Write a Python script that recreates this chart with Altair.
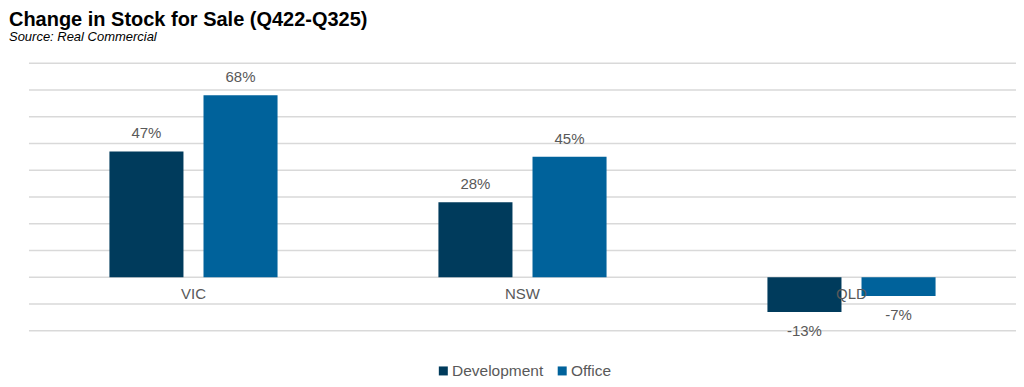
import altair as alt
import pandas as pd

categories = ["VIC", "NSW", "QLD"]
series = ["Development", "Office"]
development = [47, 28, -13]
office = [68, 45, -7]
colors = ["#003B5C", "#00629B"]
grid_values = [-20, -10, 0, 10, 20, 30, 40, 50, 60, 70, 80]

rows = []
for c, d, o in zip(categories, development, office):
    rows.append({"Region": c, "Series": "Development", "Value": d})
    rows.append({"Region": c, "Series": "Office", "Value": o})
df = pd.DataFrame(rows)
df["Label"] = df["Value"].map(lambda v: f"{v}%")
cat_df = pd.DataFrame({"Region": categories})
grid_df = pd.DataFrame({"Value": grid_values})

FONT = "Liberation Sans"
TXT = "#595959"

x_enc = alt.X("Region:N", sort=categories, axis=None,
              scale=alt.Scale(paddingInner=0.489, paddingOuter=0.2445))
xoff = alt.XOffset("Series:N", sort=series,
                   scale=alt.Scale(paddingInner=0.213, paddingOuter=0))
y_scale = alt.Scale(domain=[-20, 80], nice=False, zero=True)
y_enc = alt.Y("Value:Q", scale=y_scale, axis=None)

grid = alt.Chart(grid_df).mark_rule(color="#d9d9d9", strokeWidth=1.5).encode(
    y=y_enc
)

bars = alt.Chart(df).mark_bar().encode(
    x=x_enc, xOffset=xoff, y=y_enc,
    color=alt.Color("Series:N", sort=series,
                    scale=alt.Scale(domain=series, range=colors),
                    legend=alt.Legend(orient="none", legendX=407, legendY=300,
                                      direction="horizontal", title=None,
                                      symbolType="square", symbolSize=81,
                                      symbolStrokeWidth=0, labelFont=FONT,
                                      labelFontSize=15.5, labelColor=TXT,
                                      labelOffset=1, columnPadding=11,
                                      padding=0)),
)

pos_labels = alt.Chart(df).transform_filter("datum.Value >= 0").mark_text(
    font=FONT, fontSize=15, color=TXT, baseline="alphabetic", dy=-13
).encode(x=x_enc, xOffset=xoff, y=y_enc, text="Label:N")

neg_labels = alt.Chart(df).transform_filter("datum.Value < 0").mark_text(
    font=FONT, fontSize=15, color=TXT, baseline="alphabetic", dy=24
).encode(x=x_enc, xOffset=xoff, y=y_enc, text="Label:N")

cat_labels = alt.Chart(cat_df).mark_text(
    font=FONT, fontSize=15, color=TXT, baseline="alphabetic", dy=22
).encode(x=x_enc, y=alt.datum(0, scale=y_scale), text="Region:N")

chart = alt.layer(grid, bars, pos_labels, neg_labels, cat_labels).properties(
    width=988, height=268,
    autosize=alt.AutoSizeParams(type="none"),
    padding={"left": 21, "top": 55, "right": 0, "bottom": 48},
    title=alt.TitleParams(
        text="Change in Stock for Sale (Q422-Q325)",
        subtitle="Source: Real Commercial",
        anchor="start", frame="group", dx=-20, offset=18,
        font=FONT, fontSize=20, fontWeight="bold", color="#000000",
        subtitleFont=FONT, subtitleFontSize=13, subtitleFontStyle="italic",
        subtitleColor="#000000", subtitlePadding=1,
    ),
).configure_view(stroke=None)

chart.save("out.html", embed_options={"renderer": "svg", "actions": False})
